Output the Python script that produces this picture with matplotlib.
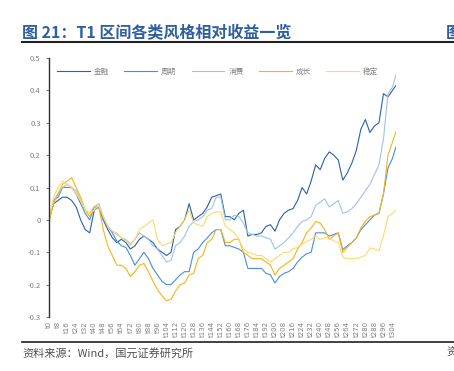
import matplotlib
matplotlib.use('Agg')
import matplotlib.pyplot as plt

plt.rcParams['font.family'] = ['Noto Sans CJK SC', 'DejaVu Sans']

# trading-day index of each reading (every 4 days, plus the last day)
days = list(range(0, 305, 4)) + [307]

finance = [0.0, 0.05, 0.06, 0.07, 0.07, 0.06, 0.04, 0.0, -0.03, -0.04,
           0.03, 0.04, 0.0, -0.03, -0.055, -0.07, -0.06, -0.07, -0.09, -0.08,
           -0.06, -0.05, -0.06, -0.07, -0.09, -0.1, -0.11, -0.1, -0.03, -0.02,
           0.0, 0.05, 0.0, 0.01, 0.02, 0.04, 0.07, 0.075, 0.08, 0.01,
           0.01, 0.0, 0.02, 0.03, -0.05, -0.045, -0.045, -0.04, -0.02, -0.015,
           -0.035, 0.0, 0.02, 0.03, 0.035, 0.06, 0.1, 0.08, 0.12, 0.17,
           0.155, 0.19, 0.21, 0.2, 0.185, 0.123, 0.145, 0.175, 0.215, 0.28,
           0.31, 0.27, 0.29, 0.3, 0.39, 0.38, 0.4, 0.415]
cyclical = [0.0, 0.06, 0.07, 0.1, 0.1, 0.1, 0.08, 0.05, 0.02, 0.0,
            0.04, 0.04, 0.0, -0.02, -0.04, -0.065, -0.08, -0.085, -0.11, -0.14,
            -0.12, -0.1, -0.12, -0.15, -0.17, -0.19, -0.2, -0.2, -0.185, -0.17,
            -0.16, -0.16, -0.1, -0.09, -0.07, -0.056, -0.04, -0.03, -0.03, -0.08,
            -0.08, -0.085, -0.09, -0.1, -0.15, -0.15, -0.15, -0.15, -0.165, -0.17,
            -0.195, -0.175, -0.165, -0.16, -0.15, -0.13, -0.115, -0.105, -0.1, -0.04,
            -0.04, -0.04, -0.05, -0.045, -0.04, -0.092, -0.08, -0.07, -0.056, -0.03,
            -0.015, 0.0, 0.015, 0.02, 0.08, 0.16, 0.19, 0.225]
consumer = [0.0, 0.06, 0.08, 0.1, 0.11, 0.1, 0.09, 0.06, 0.03, 0.02,
            0.04, 0.05, 0.01, -0.02, -0.035, -0.045, -0.055, -0.06, -0.075, -0.06,
            -0.04, -0.05, -0.06, -0.08, -0.09, -0.11, -0.13, -0.125, -0.08, -0.07,
            -0.05, -0.02, -0.005, 0.0, 0.01, 0.03, 0.035, 0.07, 0.07, 0.0,
            0.0, 0.015, 0.01, -0.01, -0.04, -0.045, -0.05, -0.05, -0.055, -0.06,
            -0.09, -0.08, -0.07, -0.055, -0.04, -0.02, -0.005, 0.0, 0.01, 0.045,
            0.055, 0.065, 0.04, 0.05, 0.06, 0.02, 0.025, 0.035, 0.05, 0.07,
            0.09, 0.11, 0.14, 0.17, 0.25, 0.39, 0.41, 0.447]
growth = [0.0, 0.05, 0.08, 0.11, 0.12, 0.13, 0.1, 0.07, 0.03, 0.01,
          0.04, 0.04, -0.03, -0.08, -0.11, -0.14, -0.14, -0.15, -0.175, -0.16,
          -0.14, -0.135, -0.16, -0.19, -0.215, -0.235, -0.25, -0.245, -0.22, -0.2,
          -0.195, -0.17, -0.165, -0.12, -0.11, -0.07, -0.06, -0.03, -0.03, -0.07,
          -0.07, -0.06, -0.06, -0.1, -0.11, -0.12, -0.12, -0.12, -0.13, -0.14,
          -0.17, -0.15, -0.14, -0.13, -0.12, -0.09, -0.07, -0.04, -0.025, -0.005,
          -0.01, -0.03, -0.06, -0.05, -0.04, -0.1, -0.085, -0.07, -0.056, -0.025,
          -0.005, 0.01, 0.015, 0.02, 0.08, 0.2, 0.24, 0.272]
stable = [0.0, 0.07, 0.1, 0.12, 0.11, 0.1, 0.08, 0.06, 0.03, 0.02,
          0.03, 0.045, 0.01, -0.02, -0.035, -0.04, -0.055, -0.065, -0.08, -0.06,
          -0.03, -0.02, -0.01, 0.0, -0.06, -0.08, -0.075, -0.07, -0.04, -0.02,
          0.0, 0.03, -0.01, -0.015, -0.02, 0.01, 0.02, 0.025, 0.025, -0.02,
          -0.03, -0.04, -0.06, -0.09, -0.1, -0.105, -0.11, -0.11, -0.12, -0.13,
          -0.12, -0.11, -0.1, -0.1, -0.09, -0.085, -0.075, -0.067, -0.06, -0.05,
          -0.06, -0.055, -0.056, -0.065, -0.07, -0.115, -0.12, -0.12, -0.12, -0.115,
          -0.11, -0.087, -0.09, -0.095, -0.05, 0.01, 0.02, 0.03]

names = ['金融', '周期', '消费', '成长', '稳定']
colors = ['#2B5FAE', '#4A8DDC', '#9DC3EA', '#F5B517', '#FFD966']

xtick_pos = list(range(0, 305, 8))
xtick_labels = ['t%d' % d for d in xtick_pos]
ytick_pos = [-0.3, -0.2, -0.1, 0, 0.1, 0.2, 0.3, 0.4, 0.5]
ytick_labels = ['-0.3', '-0.2', '-0.1', '0', '0.1', '0.2', '0.3', '0.4', '0.5']

fig = plt.figure(figsize=(4.54, 3.71), dpi=100)
ax = fig.add_axes([0.108, 0.1456, 0.764, 0.698])

for vals, name, c in zip([finance, cyclical, consumer, growth, stable], names, colors):
    ax.plot(days, vals, color=c, lw=0.8, label=name)

ax.set_xlim(0, 307)
ax.set_ylim(-0.3, 0.5)
ax.set_yticks(ytick_pos)
ax.set_yticklabels(ytick_labels)
ax.set_xticks(xtick_pos)
ax.set_xticklabels(xtick_labels, rotation=90, family='DejaVu Sans')
ax.tick_params(axis='x', length=0, labelsize=5, colors='#808080', pad=3)
ax.tick_params(axis='y', length=2, width=0.8, labelsize=5.5, colors='#808080', pad=4)
for s in ['top', 'right', 'bottom']:
    ax.spines[s].set_visible(False)
ax.spines['left'].set_color('#303030')
ax.spines['left'].set_linewidth(1.0)

leg = ax.legend(loc='center', bbox_to_anchor=(0.486, 0.946), ncol=5, frameon=False,
                fontsize=5.5, handlelength=4.3, handletextpad=0.5, columnspacing=2.0)
for t in leg.get_texts():
    t.set_color('#808080')

# title, rules and source
fig.text(22 / 454, 1 - 33 / 371, '图 21：T1 区间各类风格相对收益一览', fontsize=11.5,
         fontweight='bold', color='#2E5F9E', va='center', ha='left')
fig.text(446 / 454, 1 - 33 / 371, '图', fontsize=11.5, fontweight='bold',
         color='#2E5F9E', va='center', ha='left')
fig.add_artist(plt.Line2D([22 / 454, 1], [1 - 42 / 371] * 2, color='#202020', lw=1.5))
fig.add_artist(plt.Line2D([22 / 454, 1], [1 - 342 / 371] * 2, color='#202020', lw=1.2))
fig.text(22 / 454, 1 - 353 / 371, '资料来源：Wind，国元证券研究所', fontsize=8,
         color='#505050', va='center', ha='left')
fig.text(446 / 454, 1 - 353 / 371, '资', fontsize=8, color='#505050', va='center', ha='left')

fig.savefig('out.png', dpi=100)
